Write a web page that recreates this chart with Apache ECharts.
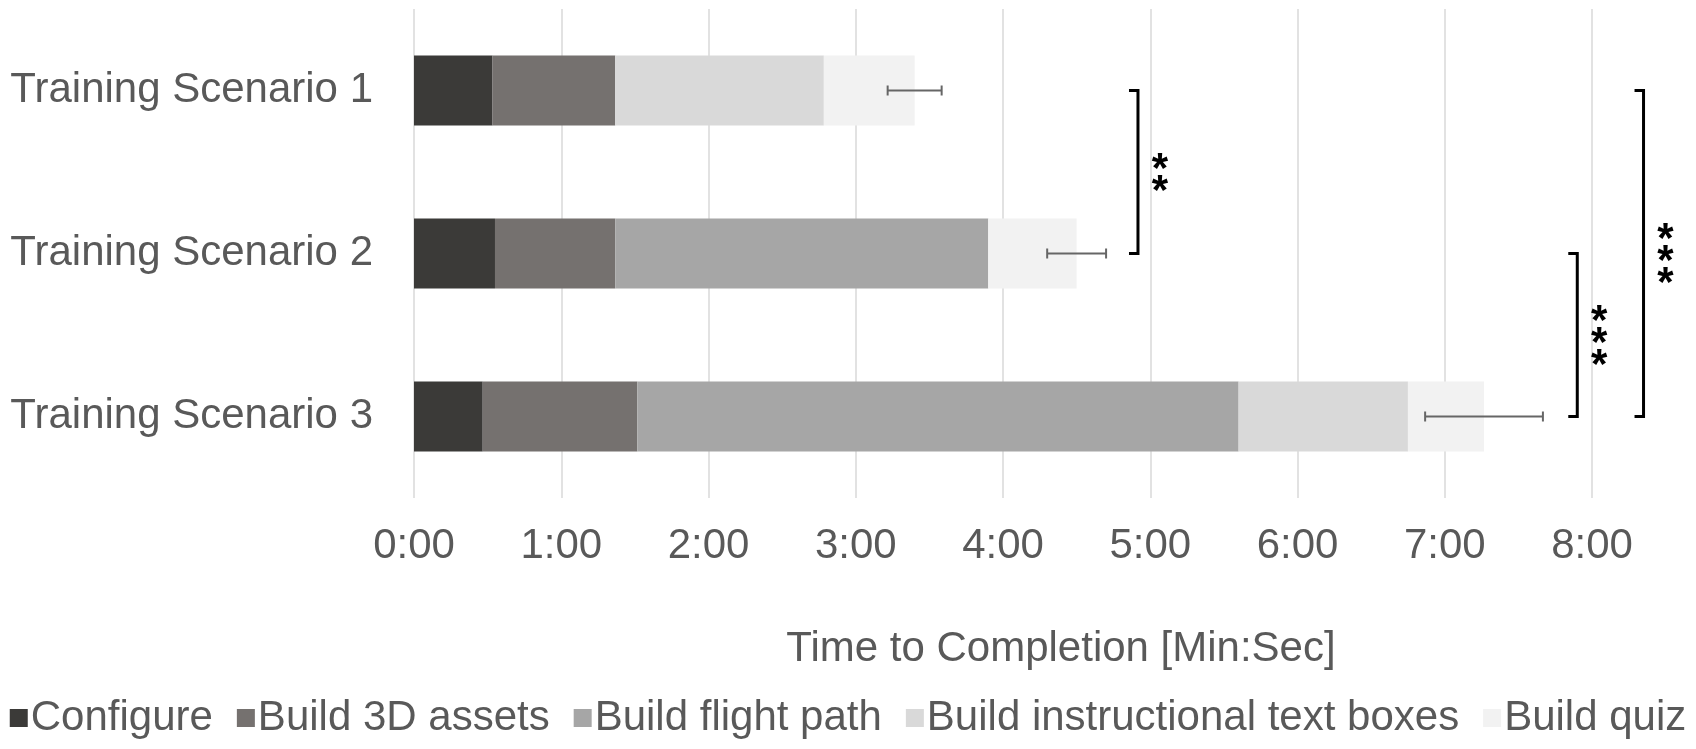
<!DOCTYPE html>
<html>
<head>
<meta charset="utf-8">
<script src="https://cdn.jsdelivr.net/npm/echarts@6/dist/echarts.min.js"></script>
<style>
  html, body { margin: 0; padding: 0; background: #fff; }
  #chart { width: 1696px; height: 749px; }
</style>
</head>
<body>
<div id="chart"></div>
<script>
// values in seconds
const scenarios = ['Training Scenario 1', 'Training Scenario 2', 'Training Scenario 3']
const configure = [32, 33, 28]
const assets3d = [50, 49, 63]
const flightPath = [0, 152, 245]
const textBoxes = [85, 0, 69]
const quiz = [37, 36, 31]
const errors = [11, 12, 24]
const tickStep = 60
// significance brackets: [x position (s), from scenario, to scenario, stars]
const brackets = [
  [295, 0, 1, 2],
  [474, 1, 2, 3],
  [501, 0, 2, 3]
]

const font = 'Liberation Sans, Arial, sans-serif'
const grey = '#595959'

const seriesDefs = [
  { name: 'Configure', data: configure, color: '#3b3a38' },
  { name: 'Build 3D assets', data: assets3d, color: '#75716f' },
  { name: 'Build flight path', data: flightPath, color: '#a6a6a6' },
  { name: 'Build instructional text boxes', data: textBoxes, color: '#d9d9d9' },
  { name: 'Build quiz', data: quiz, color: '#f2f2f2' }
]

const totals = scenarios.map((s, i) => seriesDefs.reduce((a, d) => a + d.data[i], 0))

function fmt(v) {
  const m = Math.floor(v / 60)
  const s = Math.round(v % 60)
  return m + ':' + (s < 10 ? '0' : '') + s
}

const chart = echarts.init(document.getElementById('chart'))

const series = seriesDefs.map(d => ({
  name: d.name,
  type: 'bar',
  stack: 'time',
  barWidth: 70,
  itemStyle: { color: d.color },
  data: d.data,
  animation: false
}))

// error bars centred on the end of each stacked bar
series.push({
  type: 'custom',
  name: 'err',
  silent: true,
  animation: false,
  z: 10,
  renderItem: function(params, api) {
    const c = api.value(1)
    const lo = api.coord([api.value(0) - api.value(2), c])
    const hi = api.coord([api.value(0) + api.value(2), c])
    const style = { stroke: '#666', lineWidth: 2 }
    return {
      type: 'group',
      children: [
        { type: 'line', shape: { x1: lo[0], y1: lo[1], x2: hi[0], y2: hi[1] }, style },
        { type: 'line', shape: { x1: lo[0], y1: lo[1] - 5, x2: lo[0], y2: lo[1] + 5 }, style },
        { type: 'line', shape: { x1: hi[0], y1: hi[1] - 5, x2: hi[0], y2: hi[1] + 5 }, style }
      ]
    }
  },
  data: totals.map((t, i) => [t, i, errors[i]])
})

// significance brackets
series.push({
  type: 'custom',
  name: 'sig',
  silent: true,
  animation: false,
  clip: false,
  z: 10,
  renderItem: function(params, api) {
    const top = api.coord([api.value(0), api.value(1)])
    const bot = api.coord([api.value(0), api.value(2)])
    const n = api.value(3)
    const style = { stroke: '#000', lineWidth: 3, fill: null }
    const children = [{
      type: 'polyline',
      shape: { points: [[top[0] - 9, top[1]], [top[0], top[1]], [bot[0], bot[1]], [bot[0] - 9, bot[1]]] },
      style
    }]
    const mid = (top[1] + bot[1]) / 2
    for (let k = 0; k < n; k++) {
      children.push({
        type: 'text',
        style: {
          text: '*', x: top[0] + 22, y: mid + (k - (n - 1) / 2) * 22 + 9,
          fill: '#000', font: 'bold 42px ' + font, align: 'center', verticalAlign: 'middle'
        }
      })
    }
    return { type: 'group', children }
  },
  data: brackets
})

const option = {
  backgroundColor: '#fff',
  textStyle: { fontFamily: font },
  legend: {
    data: seriesDefs.map(d => d.name),
    bottom: 5,
    left: 'center',
    itemWidth: 18,
    itemHeight: 18,
    itemGap: 24,
    icon: 'rect',
    textStyle: { color: grey, fontSize: 42, fontFamily: font, padding: [0, 0, 0, -2] }
  },
  grid: { left: 414, right: 104, top: 9, bottom: 251, containLabel: false },
  xAxis: {
    type: 'value',
    min: 0,
    max: 480,
    interval: tickStep,
    axisLine: { show: false },
    axisTick: { show: false },
    splitLine: { show: true, lineStyle: { color: '#d9d9d9', width: 1.5 } },
    axisLabel: { color: grey, fontSize: 42, margin: 27, formatter: fmt }
  },
  yAxis: {
    type: 'category',
    inverse: true,
    data: scenarios,
    axisLine: { show: false },
    axisTick: { show: false },
    axisLabel: { color: grey, fontSize: 42, margin: 41 }
  },
  graphic: [{
    type: 'text',
    x: 1061,
    y: 649,
    style: {
      text: 'Time to Completion [Min:Sec]',
      fill: grey, font: '42px ' + font, align: 'center', verticalAlign: 'middle'
    }
  }],
  series
}

chart.setOption(option)
</script>
</body>
</html>
